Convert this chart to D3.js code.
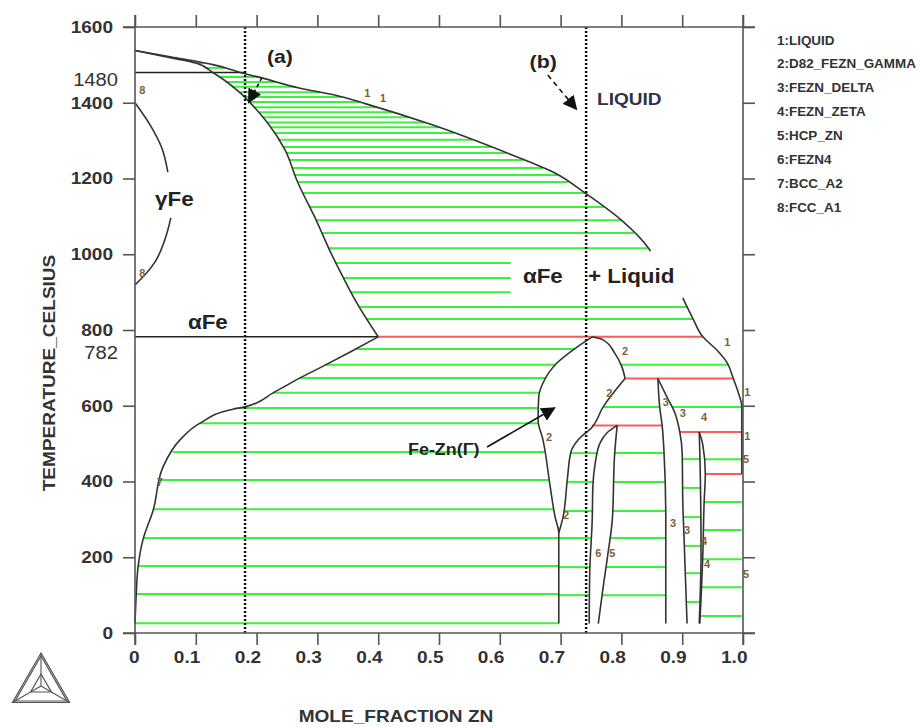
<!DOCTYPE html>
<html lang="en">
<head>
<meta charset="utf-8">
<title>Fe-Zn phase diagram</title>
<script src="https://d3js.org/d3.v7.min.js"></script>
<style>
  body { margin: 0; background: #fff; }
  text { font-family: "Liberation Sans", Arial, sans-serif; }
</style>
</head>
<body>
<script>
// ---------- data (mole fraction Zn, temperature C) ----------
const xTicks = [0, 0.1, 0.2, 0.3, 0.4, 0.5, 0.6, 0.7, 0.8, 0.9, 1.0];
const yTicks = [0, 200, 400, 600, 800, 1000, 1200, 1400, 1600];
const extraYLabels = [1480, 782];

const liquidusHigh = [[0,1538],[0.06,1521],[0.13,1500],[0.173,1480],[0.21,1465],[0.27,1439],[0.33,1420],[0.38,1397],[0.49,1341],[0.60,1275],[0.69,1215],[0.74,1162],[0.80,1090],[0.845,1015],[0.848,1008]];
const liquidusLow = [[0.901,885],[0.908,861],[0.918,829],[0.934,782],[0.957,747],[0.974,713],[0.984,672],[0.992,636],[0.998,597],[0.998,420]];
const solidusAlpha = [[0,1538],[0.058,1519],[0.10,1505],[0.128,1480],[0.173,1426],[0.19,1399],[0.217,1349],[0.247,1275],[0.266,1196],[0.30,1083],[0.32,1011],[0.342,940],[0.365,871],[0.40,782]];
const gammaLoopTop = [[0,1400],[0.025,1341],[0.044,1281],[0.054,1217]];
const gammaLoopBottom = [[0.059,1096],[0.049,1038],[0.033,980],[0.016,945],[0,919]];
const alphaSolvus = [[0.40,782],[0.354,742],[0.304,700],[0.271,673],[0.227,634],[0.181,597],[0.161,591],[0.107,554],[0.074,510],[0.046,438],[0.030,325],[0.013,246],[0.005,174],[0.002,100],[0,25]];
const gammaLeft = [[0.752,782],[0.727,755],[0.694,713],[0.671,660],[0.664,623],[0.663,562],[0.671,510],[0.683,385],[0.691,306],[0.697,264],[0.697,25]];
const gammaRightHigh = [[0.752,782],[0.770,774],[0.789,739],[0.801,702],[0.806,672]];
const gammaRightLow = [[0.806,672],[0.770,597],[0.752,544],[0.729,510],[0.717,478],[0.711,404],[0.704,306],[0.697,264]];
const gamma1Left = [[0.793,548],[0.776,528],[0.765,502],[0.757,449],[0.753,385],[0.752,298],[0.748,166],[0.747,25]];
const gamma1Right = [[0.793,548],[0.789,475],[0.785,298],[0.778,211],[0.770,121],[0.762,25]];
const deltaLeft = [[0.860,672],[0.863,597],[0.867,548],[0.870,480],[0.873,300],[0.873,25]];
const deltaRight = [[0.860,672],[0.875,623],[0.888,581],[0.896,531],[0.900,475],[0.901,343],[0.903,254],[0.908,25]];
const zetaLeft = [[0.928,531],[0.929,475],[0.931,211],[0.928,25]];
const zetaRight = [[0.928,531],[0.934,496],[0.938,420],[0.936,343],[0.934,211],[0.929,25]];
const zincSide = [[0.998,420],[0.998,0]];

// tie-line temperatures per two-phase field
const alphaLiqTemps = [1518,1505,1492,1468,1455,1442,1428,1415,1402,1388,1375,1362,1348,1335,1320,1302,1283,1267,1249,1228,1209,1191,1162,1125,1090,1056,1016,977,937,900,861,829];
const alphaGammaTemps = [750,708,673,634,594,554,478,404,327,251,177,103,26];
const gammaLiqTemps = [708];
const gammaDeltaTemps = [597];
const deltaLiqTemps = [597];
const gammaGamma1Temps = [475,399,322,251,174,100];
const gamma1DeltaTemps = [475,399,322,251,174,100];
const deltaZetaTemps = [459,383,306,230,158,82];
const zetaLiqTemps = [459];
const zetaEtaTemps = [346,272,195,121,45];

// invariant lines
const invT = [782, 672, 548, 531, 420];
const invFrom = [0.400, 0.806, 0.752, 0.896, 0.938];
const invTo = [0.934, 0.984, 0.867, 0.998, 0.998];
const blackT = [1480, 782];
const blackFrom = [0, 0];
const blackTo = [0.181, 0.400];
const markerX = [0.181, 0.742];

// small curve labels [text, x, T]
const curveLabels = [["1",0.382,1426],["1",0.408,1413],["1",0.974,768],["1",1.007,636],["1",1.007,520],
  ["5",1.005,459],["5",1.005,156],["2",0.806,745],["2",0.780,634],["2",0.681,517],["2",0.709,312],
  ["3",0.873,610],["3",0.901,581],["4",0.936,570],["3",0.885,290],["3",0.908,272],["4",0.936,243],
  ["4",0.941,182],["6",0.762,211],["5",0.785,211],["7",0.041,399],["8",0.012,1434],["8",0.012,950]];
const legendItems = ["1:LIQUID","2:D82_FEZN_GAMMA","3:FEZN_DELTA","4:FEZN_ZETA","5:HCP_ZN","6:FEZN4","7:BCC_A2","8:FCC_A1"];

// ---------- drawing ----------
const svg = d3.select("body").append("svg").attr("width", 920).attr("height", 727);
const x = d3.scaleLinear().domain([0, 1]).range([135, 743]);
const y = d3.scaleLinear().domain([0, 1600]).range([633, 27]);
const line = d3.line().x(d => x(d[0])).y(d => y(d[1])).curve(d3.curveMonotoneY);

function stretch(sel, k) {
  sel.each(function() {
    const w = this.getComputedTextLength();
    this.setAttribute("textLength", w * k);
    this.setAttribute("lengthAdjust", "spacingAndGlyphs");
  });
}

// x position of a boundary at temperature T
function xAt(curve, T) {
  for (let i = 0; i < curve.length - 1; i++) {
    const a = curve[i], b = curve[i + 1];
    if ((T - a[1]) * (T - b[1]) <= 0 && a[1] !== b[1]) {
      return a[0] + (b[0] - a[0]) * (T - a[1]) / (b[1] - a[1]);
    }
  }
  return null;
}

const liquidusAll = liquidusHigh.concat(liquidusLow);
const gammaRightFull = gammaRightLow.concat([[0.697, 25]]);
const tieSets = [
  [alphaLiqTemps, solidusAlpha, liquidusAll],
  [alphaGammaTemps, alphaSolvus, gammaLeft],
  [gammaLiqTemps, gammaRightHigh, liquidusLow],
  [gammaDeltaTemps, gammaRightLow, deltaLeft],
  [deltaLiqTemps, deltaRight, liquidusLow],
  [gammaGamma1Temps, gammaRightFull, gamma1Left],
  [gamma1DeltaTemps, gamma1Right, deltaLeft],
  [deltaZetaTemps, deltaRight, zetaLeft],
  [zetaLiqTemps, zetaRight, liquidusLow],
  [zetaEtaTemps, zetaRight, zincSide]
];
const ties = [];
tieSets.forEach(([temps, left, right]) => {
  temps.forEach(T => {
    const a = xAt(left, T), b = xAt(right, T);
    if (a !== null && b !== null) ties.push({T: T, a: a, b: b});
  });
});

svg.append("g").selectAll("line").data(ties).join("line")
  .attr("x1", d => x(d.a)).attr("x2", d => x(d.b))
  .attr("y1", d => y(d.T)).attr("y2", d => y(d.T))
  .attr("stroke", "#3ef03e").attr("stroke-width", 2);

svg.append("g").selectAll("line").data(invT).join("line")
  .attr("x1", (d, i) => x(invFrom[i])).attr("x2", (d, i) => x(invTo[i]))
  .attr("y1", d => y(d)).attr("y2", d => y(d))
  .attr("stroke", "#ff5a5a").attr("stroke-width", 2);

svg.append("g").selectAll("line").data(blackT).join("line")
  .attr("x1", (d, i) => x(blackFrom[i])).attr("x2", (d, i) => x(blackTo[i]))
  .attr("y1", d => y(d)).attr("y2", d => y(d))
  .attr("stroke", "#222").attr("stroke-width", 1.6);

const boundaries = [liquidusHigh, liquidusLow, solidusAlpha, gammaLoopTop, gammaLoopBottom, alphaSolvus,
  gammaLeft, gammaRightHigh, gammaRightLow, gamma1Left, gamma1Right, deltaLeft, deltaRight, zetaLeft, zetaRight];
svg.append("g").selectAll("path").data(boundaries).join("path")
  .attr("d", line).attr("fill", "none").attr("stroke", "#333").attr("stroke-width", 1.6);

// box behind the "αFe + Liquid" label
svg.append("rect").attr("x", x(0.618)).attr("y", y(1007)).attr("width", x(0.9) - x(0.618)).attr("height", y(887) - y(1007))
  .attr("fill", "#fff");

// dotted composition markers
svg.append("g").selectAll("line").data(markerX).join("line")
  .attr("x1", d => x(d)).attr("x2", d => x(d)).attr("y1", y(0)).attr("y2", y(1600))
  .attr("stroke", "#111").attr("stroke-width", 2.5).attr("stroke-dasharray", "2,2");

// ---------- axes ----------
const axisColor = "#555";
const gx = svg.append("g").attr("transform", `translate(0,${y(0)})`)
  .call(d3.axisBottom(x).tickValues(xTicks).tickSize(12).tickFormat(d => d === 0 ? "0" : d.toFixed(1)));
gx.selectAll("text").attr("text-anchor", "end").attr("x", 4).attr("y", 30).attr("dy", 0);
svg.append("g").attr("transform", `translate(0,${y(1600)})`)
  .call(d3.axisTop(x).tickValues(xTicks).tickSize(12).tickFormat(""));
svg.append("g").attr("transform", `translate(${x(0)},0)`)
  .call(d3.axisLeft(y).tickValues(yTicks).tickSize(12).tickPadding(10).tickFormat(d => String(d)));
svg.append("g").attr("transform", `translate(${x(1)},0)`)
  .call(d3.axisRight(y).tickValues(yTicks).tickSize(12).tickFormat(""));
svg.selectAll(".domain").remove();
svg.selectAll(".tick line").attr("stroke", axisColor).attr("stroke-width", 1.6);
svg.selectAll(".tick text").attr("font-size", 17).attr("font-weight", "bold").attr("fill", "#333");
stretch(svg.selectAll(".tick text"), 1.12);

const frame = [
  [[x(0) - 12, y(0)], [x(1) + 12, y(0)]],
  [[x(0) - 12, y(1600)], [x(1) + 12, y(1600)]],
  [[x(0), y(1600) - 12], [x(0), y(0) + 12]],
  [[x(1), y(1600) - 12], [x(1), y(0) + 12]]
];
svg.append("g").selectAll("line").data(frame).join("line")
  .attr("x1", d => d[0][0]).attr("y1", d => d[0][1]).attr("x2", d => d[1][0]).attr("y2", d => d[1][1])
  .attr("stroke", axisColor).attr("stroke-width", 1.6);

const extra = svg.append("g").selectAll("text").data(extraYLabels).join("text")
  .attr("x", 118).attr("y", d => y(d) + (d === 1480 ? 7 : 16)).attr("dy", "0.35em")
  .attr("text-anchor", "end").attr("font-size", 18).attr("fill", "#333").text(d => d);
stretch(extra, 1.12);

const yTitle = svg.append("text").attr("transform", "translate(55,373) rotate(-90)")
  .attr("text-anchor", "middle").attr("font-size", 17).attr("font-weight", "bold").attr("fill", "#333")
  .text("TEMPERATURE_CELSIUS");
stretch(yTitle, 1.12);
const xTitle = svg.append("text").attr("x", 396).attr("y", 722)
  .attr("text-anchor", "middle").attr("font-size", 17).attr("font-weight", "bold").attr("fill", "#333")
  .text("MOLE_FRACTION ZN");
stretch(xTitle, 1.12);

// ---------- legend ----------
const leg = svg.append("g").selectAll("text").data(legendItems).join("text")
  .attr("x", 777).attr("y", (d, i) => 44.5 + i * 23.9)
  .attr("font-size", 12).attr("font-weight", "bold").attr("fill", "#333").text(d => d);
stretch(leg, 1.12);

// ---------- annotations ----------
const big = [["γFe", 0.033, 1127, 20], ["αFe", 0.087, 803, 20], ["αFe", 0.638, 924, 20], ["+ Liquid", 0.745, 924, 20],
  ["LIQUID", 0.760, 1394, 17], ["(a)", 0.217, 1505, 19], ["(b)", 0.649, 1492, 19], ["Fe-Zn(Γ)", 0.449, 470, 16]];
const bigText = svg.append("g").selectAll("text").data(big).join("text")
  .attr("x", d => x(d[1])).attr("y", d => y(d[2])).attr("font-size", d => d[3])
  .attr("font-weight", "bold").attr("fill", d => d[0] === "LIQUID" ? "#2e3442" : "#222").text(d => d[0]);
stretch(bigText, 1.12);

svg.append("g").selectAll("text").data(curveLabels).join("text")
  .attr("x", d => x(d[1])).attr("y", d => y(d[2])).attr("dy", "0.35em").attr("text-anchor", "middle")
  .attr("font-size", 11).attr("font-weight", "bold").attr("fill", "#7d5f3a").text(d => d[0]);

// arrows
const defs = svg.append("defs");
defs.append("marker").attr("id", "ah").attr("viewBox", "0 0 10 10").attr("refX", 9).attr("refY", 5)
  .attr("markerWidth", 9).attr("markerHeight", 9).attr("orient", "auto")
  .append("path").attr("d", "M0,0L10,5L0,10z").attr("fill", "#111");
const arrows = [
  {from: [0.209, 1467], to: [0.187, 1401], dash: "4,3"},
  {from: [0.679, 1473], to: [0.726, 1383], dash: "5,4"},
  {from: [0.579, 491], to: [0.690, 594], dash: null}
];
svg.append("g").selectAll("line").data(arrows).join("line")
  .attr("x1", d => x(d.from[0])).attr("y1", d => y(d.from[1]))
  .attr("x2", d => x(d.to[0])).attr("y2", d => y(d.to[1]))
  .attr("stroke", "#111").attr("stroke-width", 1.6)
  .attr("stroke-dasharray", d => d.dash).attr("marker-end", "url(#ah)");

// logo
const logo = svg.append("g").attr("transform", "translate(41,686)").attr("fill", "none").attr("stroke", "#555");
const tri = r => [[0, -2 * r], [-1.73 * r, r], [1.73 * r, r]];
[16.5, 15, 6].forEach(r => logo.append("path").attr("d", d3.line()(tri(r)) + "Z").attr("stroke-width", 1.2));
tri(16.5).forEach(p => logo.append("line").attr("x1", 0).attr("y1", 0).attr("x2", p[0]).attr("y2", p[1]).attr("stroke-width", 1.1));
</script>
</body>
</html>
